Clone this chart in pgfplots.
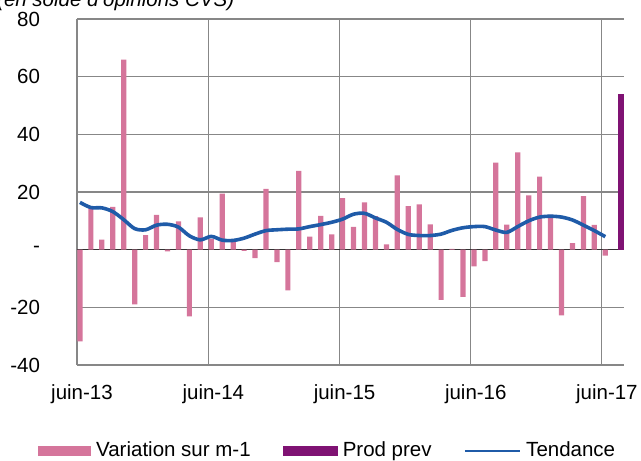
\documentclass[border=0pt]{standalone}
\usepackage{fontspec}
\setmainfont{Liberation Sans}
\usepackage{pgfplots}
\pgfplotsset{compat=1.18}
\definecolor{pinkbar}{RGB}{213,117,155}
\definecolor{purplebar}{RGB}{127,18,115}
\definecolor{blueline}{RGB}{31,91,168}
\definecolor{gridgray}{RGB}{135,135,135}
\newcommand{\chartfont}{\fontsize{20.5bp}{24bp}\selectfont}
\begin{document}
\chartfont
\begin{tikzpicture}
\begin{axis}[
  at={(0,0)}, anchor=south west,
  scale only axis, width=547bp, height=346bp,
  xmin=-0.27, xmax=49.71, ymin=-40, ymax=80,
  xtick={-0.27,11.73,23.72,35.71,47.69},
  xticklabels={juin-13,juin-14,juin-15,juin-16,juin-17},
  ytick={-40,-20,20,40,60,80},
  yticklabels={-40,-20,20,40,60,80},
  extra y ticks={0},
  extra y tick labels={-\hspace{12.6bp}},
  extra y tick style={ymajorgrids=true, grid style={black!80,line width=1.1bp}},
  xmajorgrids, ymajorgrids,
  grid style={gridgray,line width=1.1bp},
  axis line style={draw=none},
  major tick length=0pt,
  tick label style={font=\chartfont},
  xticklabel style={xshift=5bp,yshift=-12.5bp},
  yticklabel style={xshift=-30bp},
  legend columns=3,
  legend style={at={(-0.0713,-0.248)}, anchor=west, draw=none, fill=none,
    inner sep=0pt, font=\chartfont, nodes={inner xsep=0pt},
    /tikz/every odd column/.append style={column sep=5bp},
    /tikz/every even column/.append style={column sep=32bp}},
]
\addplot[ybar, bar width=5.2bp, fill=pinkbar, draw=none,
  legend image code/.code={\fill[pinkbar] (0bp,-5bp) rectangle (53bp,5bp);}]
coordinates {
(0,-31.8) (1,14.5) (2,3.5) (3,14.8) (4,65.9) (5,-19.0) (6,5.0) (7,12.1) (8,-0.6) (9,9.8)
(10,-23.1) (11,11.2) (12,3.7) (13,19.4) (14,2.9) (15,-0.4) (16,-2.9) (17,21.1) (18,-4.3) (19,-14.1)
(20,27.3) (21,4.5) (22,11.7) (23,5.3) (24,17.9) (25,7.9) (26,16.4) (27,11.6) (28,1.8) (29,25.8)
(30,15.1) (31,15.7) (32,8.8) (33,-17.4) (34,0.3) (35,-16.4) (36,-5.8) (37,-4.0) (38,30.2) (39,8.7)
(40,33.7) (41,18.8) (42,25.3) (43,12.1) (44,-22.8) (45,2.3) (46,18.6) (47,8.6) (48,-2.1)
};
\addlegendentry{Variation sur m-1}
\addplot[ybar, bar width=6bp, fill=purplebar, draw=none,
  legend image code/.code={\fill[purplebar] (0bp,-5bp) rectangle (55bp,5bp);}]
coordinates {(49.43,54.1)};
\addlegendentry{Prod prev}
\addplot[blueline, line width=3.6bp, smooth, no markers,
  legend image code/.code={\draw[blueline,line width=2.6bp] (0bp,0bp) -- (55bp,0bp);}]
coordinates {
(0,16.4) (1,14.6) (2,14.5) (3,13.2) (4,10.4) (5,7.3) (6,6.9) (7,8.5) (8,8.8) (9,7.8)
(10,4.8) (11,3.4) (12,4.6) (13,3.3) (14,3.2) (15,4.0) (16,5.4) (17,6.6) (18,6.9) (19,7.1)
(20,7.2) (21,8.0) (22,8.7) (23,9.5) (24,10.6) (25,12.3) (26,12.6) (27,11.0) (28,9.5) (29,7.0)
(30,5.3) (31,4.9) (32,4.9) (33,5.4) (34,6.7) (35,7.6) (36,8.0) (37,8.0) (38,6.8) (39,6.0)
(40,8.0) (41,10.0) (42,11.3) (43,11.6) (44,11.3) (45,10.3) (46,8.5) (47,6.6) (48,4.5)
};
\addlegendentry{Tendance}
\end{axis}
\node[anchor=base west, inner sep=0pt, font=\chartfont\itshape] at (-80bp,358.5bp) {(en solde d'opinions CVS)};
\pgfresetboundingbox
\path[use as bounding box] (-77bp,-96bp) rectangle (564bp,365bp);
\end{tikzpicture}
\end{document}
